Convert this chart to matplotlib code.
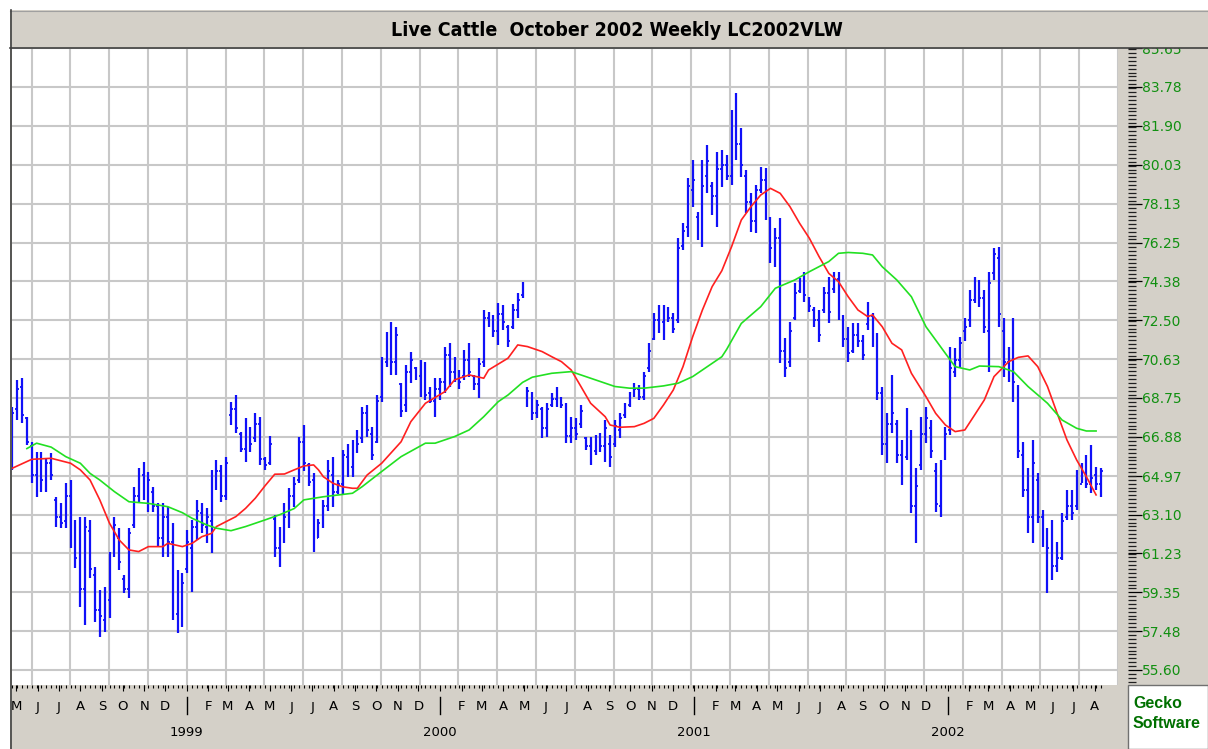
import numpy as np
import pandas as pd
import matplotlib
matplotlib.use('Agg')
import matplotlib.pyplot as plt
import matplotlib.dates as mdates
from matplotlib.patches import Rectangle
from matplotlib.lines import Line2D
from matplotlib.transforms import blended_transform_factory
from matplotlib.ticker import FixedLocator

# ---------------- data ----------------
title = "Live Cattle  October 2002 Weekly LC2002VLW"
start_date = "1998-04-25"

high = [68.33, 69.62, 69.70, 67.84, 66.63, 66.15, 66.15, 65.83, 66.07, 63.97,
        63.65, 64.62, 64.78, 62.85, 63.01, 63.01, 62.85, 60.59, 59.46, 59.62,
        61.32, 63.01, 62.45, 60.19, 62.45, 64.46, 65.35, 65.67, 65.19, 64.46,
        63.65, 63.65, 63.49, 62.69, 60.43, 60.27, 62.36, 62.85, 63.82, 63.65,
        63.41, 65.27, 65.75, 65.51, 65.91, 68.57, 68.89, 67.12, 67.76, 67.36,
        68.00, 67.84, 65.91, 66.90, 63.09, 62.53, 63.65, 64.38, 64.94, 66.88,
        67.44, 65.60, 65.10, 62.90, 63.82, 65.75, 65.91, 64.78, 66.23, 66.50,
        66.72, 67.20, 68.33, 68.41, 67.36, 68.89, 70.74, 71.95, 72.43, 72.19,
        69.46, 70.34, 70.98, 70.26, 70.58, 70.50, 69.30, 69.70, 69.70, 71.23,
        71.39, 70.74, 70.10, 71.07, 71.39, 69.86, 70.66, 73.00, 72.92, 72.76,
        73.32, 73.24, 72.27, 73.30, 73.80, 74.37, 69.30, 69.05, 68.65, 68.33,
        68.49, 68.97, 69.30, 68.81, 68.49, 67.84, 67.76, 68.41, 66.88, 66.88,
        66.96, 67.04, 67.68, 66.96, 67.68, 68.00, 68.49, 69.05, 69.46, 69.38,
        70.02, 71.39, 72.84, 73.24, 73.24, 73.16, 72.84, 76.47, 77.19, 79.37,
        80.25, 77.75, 80.25, 80.98, 79.20, 80.65, 80.73, 80.49, 82.67, 83.47,
        81.78, 79.77, 78.64, 79.04, 79.93, 79.85, 77.51, 76.95, 77.43, 71.63,
        72.43, 74.29, 74.53, 74.85, 73.64, 73.16, 73.00, 74.13, 74.61, 74.85,
        74.85, 72.76, 72.19, 72.35, 72.35, 71.79, 73.40, 72.84, 71.87, 69.30,
        68.00, 69.86, 67.68, 66.72, 68.25, 67.20, 65.35, 67.84, 68.33, 67.68,
        65.59, 65.75, 67.36, 71.23, 71.15, 71.71, 72.60, 73.97, 74.61, 74.45,
        73.97, 74.85, 76.00, 76.06, 72.60, 71.23, 72.60, 69.38, 66.63, 65.35,
        66.72, 65.10, 63.33, 62.45, 62.85, 61.80, 63.17, 64.30, 64.30, 65.27,
        65.59, 65.99, 66.47, 65.43, 65.35]

low = [65.27, 67.68, 67.52, 66.47, 64.62, 63.97, 64.22, 64.22, 64.78, 62.53,
       62.45, 62.45, 61.48, 60.51, 58.66, 57.77, 60.03, 57.93, 57.21, 57.45,
       58.10, 61.07, 60.43, 59.30, 59.06, 62.45, 63.73, 63.82, 63.25, 63.25,
       61.56, 61.07, 61.07, 58.01, 57.37, 57.69, 60.27, 59.38, 61.88, 62.20,
       61.72, 61.24, 64.30, 63.73, 63.82, 67.44, 67.04, 66.15, 65.67, 66.15,
       66.63, 65.51, 65.27, 65.51, 61.07, 60.59, 61.72, 62.45, 63.49, 64.62,
       65.20, 64.50, 61.30, 62.00, 62.45, 63.29, 63.49, 64.10, 64.06, 64.94,
       64.94, 66.07, 66.56, 66.88, 65.75, 66.56, 68.57, 70.26, 69.86, 69.86,
       67.84, 68.08, 69.46, 69.62, 68.81, 68.65, 68.49, 67.84, 68.65, 68.97,
       69.30, 69.54, 69.20, 69.62, 69.78, 69.13, 68.73, 70.26, 72.19, 71.71,
       71.31, 72.03, 71.23, 72.10, 72.60, 73.57, 68.33, 67.68, 67.76, 66.80,
       66.88, 68.33, 68.33, 68.25, 66.56, 66.56, 66.72, 67.28, 66.23, 65.51,
       65.99, 66.15, 65.67, 65.43, 66.39, 66.80, 67.76, 68.33, 68.81, 68.65,
       68.65, 70.02, 71.55, 71.87, 71.55, 72.43, 71.87, 72.35, 75.90, 76.55,
       78.00, 76.38, 76.06, 78.64, 77.59, 77.03, 78.96, 79.28, 79.04, 80.25,
       79.45, 77.67, 76.79, 76.71, 78.64, 77.35, 75.26, 75.09, 70.42, 69.78,
       70.26, 72.52, 73.81, 73.40, 72.92, 72.19, 71.47, 72.84, 72.35, 73.81,
       72.52, 71.23, 70.50, 70.90, 71.23, 70.58, 72.03, 71.23, 68.65, 66.00,
       65.60, 67.04, 65.59, 64.54, 65.75, 63.17, 61.72, 65.27, 66.56, 65.83,
       63.25, 63.01, 65.75, 66.96, 69.78, 70.18, 71.50, 72.19, 73.32, 73.16,
       71.87, 70.02, 74.45, 72.19, 69.78, 69.54, 68.57, 65.83, 63.97, 62.20,
       61.72, 62.69, 61.56, 59.30, 59.95, 60.35, 60.91, 62.85, 62.85, 63.33,
       64.62, 64.38, 64.14, 64.30, 63.97]

open_ = [65.8, 68.2, 69.3, 67.8, 66.4, 65.0, 65.3, 64.8, 65.6, 63.8,
         63.0, 62.8, 64.0, 62.0, 61.2, 59.5, 62.3, 60.2, 58.5, 58.0,
         59.0, 61.3, 62.0, 60.0, 59.5, 62.6, 64.0, 65.0, 64.3, 64.2,
         63.5, 62.0, 63.0, 61.8, 58.3, 58.0, 60.5, 61.5, 62.5, 63.2,
         62.5, 62.8, 64.9, 65.2, 64.0, 67.9, 68.2, 67.0, 66.3, 67.2,
         66.8, 67.5, 65.8, 65.6, 62.9, 61.5, 61.9, 63.0, 64.0, 64.8,
         66.6, 65.5, 64.8, 62.0, 62.7, 63.5, 65.0, 64.2, 64.6, 65.9,
         65.4, 66.5, 66.8, 68.0, 67.0, 66.6, 68.8, 70.5, 71.5, 70.5,
         69.4, 68.4, 70.0, 70.2, 69.8, 69.5, 69.0, 68.6, 69.2, 69.5,
         70.8, 70.0, 70.0, 69.8, 70.6, 69.8, 69.4, 70.5, 72.6, 72.4,
         72.0, 72.8, 72.2, 72.2, 73.0, 73.7, 68.5, 69.0, 68.0, 68.2,
         67.3, 68.4, 68.7, 68.7, 68.4, 66.9, 67.3, 67.5, 66.8, 66.4,
         66.2, 66.6, 66.4, 66.5, 66.5, 67.2, 67.9, 68.4, 68.9, 69.2,
         68.8, 70.2, 71.6, 72.5, 72.4, 72.9, 72.6, 72.5, 76.1, 77.0,
         78.8, 77.5, 76.8, 79.5, 79.0, 78.5, 79.8, 80.0, 79.5, 82.3,
         81.0, 79.5, 78.2, 77.3, 78.8, 79.3, 77.4, 76.0, 76.5, 71.0,
         70.5, 72.6, 73.9, 74.3, 73.6, 73.0, 72.5, 73.0, 73.8, 74.0,
         74.5, 72.5, 71.6, 71.0, 71.8, 71.5, 72.3, 72.7, 71.5, 69.0,
         66.5, 67.5, 67.5, 66.0, 65.9, 67.0, 63.5, 65.5, 67.0, 67.3,
         65.2, 63.5, 65.8, 67.2, 70.0, 70.6, 72.0, 72.5, 73.5, 74.0,
         73.6, 72.0, 74.8, 75.5, 72.0, 70.5, 70.0, 69.0, 66.0, 64.3,
         63.0, 64.8, 63.0, 61.9, 61.3, 60.6, 61.0, 63.0, 63.5, 63.5,
         64.6, 65.0, 64.6, 65.0, 64.6]

close = [68.0, 69.2, 67.9, 66.6, 65.0, 65.5, 64.8, 65.6, 65.0, 63.0,
         62.7, 64.0, 62.0, 61.0, 59.5, 62.5, 60.5, 58.5, 58.2, 59.2,
         61.0, 62.6, 60.8, 59.5, 62.2, 64.0, 65.0, 64.2, 64.8, 63.5,
         62.0, 63.0, 61.8, 58.5, 58.0, 59.8, 61.8, 62.5, 63.3, 62.6,
         63.0, 64.9, 65.2, 64.0, 65.6, 68.2, 67.3, 66.3, 67.4, 66.5,
         67.5, 65.8, 65.5, 66.5, 61.5, 61.0, 63.0, 64.0, 64.6, 66.6,
         65.6, 64.7, 61.8, 62.7, 63.5, 65.2, 64.2, 64.6, 66.0, 65.4,
         66.5, 66.5, 68.0, 67.2, 66.0, 68.6, 70.5, 71.3, 70.5, 71.8,
         68.1, 70.0, 70.6, 69.8, 69.5, 68.9, 68.6, 69.2, 69.5, 70.8,
         70.0, 70.4, 69.5, 70.6, 70.0, 69.4, 70.4, 72.6, 72.4, 72.0,
         72.8, 72.4, 71.5, 73.0, 73.5, 74.1, 69.1, 68.0, 68.4, 67.3,
         68.2, 68.7, 68.9, 68.4, 66.9, 67.3, 67.0, 68.1, 66.4, 66.0,
         66.6, 66.4, 67.3, 65.9, 67.4, 67.8, 68.3, 68.8, 69.2, 68.8,
         69.8, 71.0, 72.5, 72.2, 72.9, 72.6, 72.1, 76.0, 76.8, 79.0,
         79.3, 76.8, 79.0, 80.2, 78.5, 79.8, 80.0, 79.5, 82.3, 81.0,
         80.0, 78.2, 77.3, 78.8, 79.3, 77.8, 76.0, 76.5, 71.0, 70.2,
         72.0, 73.8, 74.3, 73.7, 73.2, 72.5, 71.8, 73.8, 72.9, 74.5,
         72.8, 71.6, 70.9, 71.8, 71.5, 70.8, 72.9, 71.5, 69.0, 66.5,
         67.5, 68.0, 66.0, 65.5, 67.2, 63.5, 64.5, 67.0, 67.8, 66.2,
         63.6, 65.5, 67.0, 70.2, 70.6, 71.4, 72.2, 73.5, 74.0, 73.6,
         72.2, 74.3, 75.7, 72.8, 70.5, 70.0, 69.5, 66.2, 64.3, 63.0,
         65.6, 63.0, 61.9, 61.5, 60.6, 61.0, 62.8, 63.5, 63.2, 64.3,
         65.0, 64.6, 64.9, 64.6, 65.2]

# moving averages (week number from the first bar, value)
red_week = [0, 4, 8, 12, 14, 16, 18, 20, 22, 24, 26, 28, 31, 32, 35, 37, 39, 41,
            42, 44, 46, 48, 50, 52, 54, 56, 58, 60, 62, 63, 64, 66, 68, 70, 71,
            73, 76, 80, 82, 85, 89, 91, 94, 97, 98, 102, 104, 106, 109, 111, 113,
            115, 117, 119, 122, 123, 125, 128, 130, 132, 134, 136, 138, 140, 142,
            144, 146, 148, 150, 152, 154, 156, 158, 160, 162, 164, 166, 168, 170,
            172, 174, 176, 177, 179, 181, 183, 185, 188, 190, 192, 194, 196, 198,
            200, 202, 205, 207, 209, 211, 213, 215, 217, 219, 221, 223]
red_ma = [65.35, 65.78, 65.83, 65.59, 65.27, 64.78, 63.82, 62.69, 61.88, 61.40,
          61.32, 61.56, 61.56, 61.72, 61.56, 61.72, 62.04, 62.20, 62.53, 62.77,
          63.01, 63.41, 63.90, 64.50, 65.06, 65.07, 65.27, 65.46, 65.51, 65.27,
          64.94, 64.62, 64.45, 64.38, 64.38, 65.02, 65.59, 66.63, 67.60, 68.49,
          69.05, 69.62, 69.86, 69.70, 70.10, 70.67, 71.31, 71.23, 70.99, 70.74,
          70.50, 70.10, 69.30, 68.49, 67.84, 67.44, 67.33, 67.36, 67.52, 67.76,
          68.41, 69.13, 70.26, 71.71, 73.00, 74.13, 74.90, 76.06, 77.35, 78.00,
          78.56, 78.88, 78.64, 78.00, 77.19, 76.47, 75.58, 74.77, 74.37, 73.64,
          73.00, 72.68, 72.76, 72.19, 71.39, 71.07, 69.94, 68.81, 68.00, 67.44,
          67.12, 67.20, 67.92, 68.65, 69.78, 70.50, 70.71, 70.78, 70.26, 69.30,
          68.00, 66.72, 65.75, 64.94, 64.06]

green_week = [3, 5, 8, 11, 14, 16, 18, 21, 24, 28, 32, 35, 37, 40, 42, 45, 48, 52,
              55, 58, 60, 64, 70, 72, 76, 80, 85, 87, 91, 94, 97, 100, 102, 105,
              107, 111, 115, 118, 121, 124, 127, 130, 134, 137, 140, 142, 146, 147,
              150, 154, 157, 161, 164, 168, 170, 172, 175, 177, 179, 182, 185, 188,
              192, 194, 197, 199, 203, 206, 209, 213, 216, 219, 221, 223]
green_ma = [66.30, 66.56, 66.37, 65.91, 65.59, 65.10, 64.78, 64.22, 63.73, 63.65,
            63.49, 63.20, 62.93, 62.61, 62.45, 62.33, 62.53, 62.85, 63.10, 63.40,
            63.82, 63.97, 64.14, 64.46, 65.19, 65.91, 66.56, 66.56, 66.88, 67.20,
            67.84, 68.57, 68.89, 69.50, 69.75, 69.94, 70.02, 69.78, 69.54, 69.30,
            69.22, 69.22, 69.33, 69.46, 69.78, 70.10, 70.74, 71.10, 72.35, 73.16,
            74.05, 74.45, 74.85, 75.34, 75.74, 75.78, 75.74, 75.66, 75.09, 74.45,
            73.64, 72.19, 70.90, 70.26, 70.10, 70.29, 70.26, 70.02, 69.30, 68.49,
            67.68, 67.28, 67.15, 67.15]

price_ticks = [55.60, 57.48, 59.35, 61.23, 63.10, 64.97, 66.88, 68.75, 70.63,
               72.50, 74.38, 76.25, 78.13, 80.03, 81.90, 83.78, 85.65]
month_letters = "JFMAMJJASOND"
year_labels = [1999, 2000, 2001, 2002]

# ---------------- layout ----------------
W, H = 1208, 749
fig = plt.figure(figsize=(W / 100, H / 100), dpi=100)
fig.patch.set_facecolor('white')

def fx(px):
    return px / W

def fy(py):
    return 1 - py / H

GRAY = '#D4D0C8'
DARK = '#404040'

bg = Rectangle((fx(10), 0), 1 - fx(10), fy(10), transform=fig.transFigure,
               facecolor=GRAY, edgecolor='none', zorder=-10)
fig.add_artist(bg)

L, R, T, B = 12, 1118, 48, 685
ax = fig.add_axes([fx(L), fy(B), (R - L) / W, (B - T) / H])
ax.set_facecolor('white')
for s in ax.spines.values():
    s.set_visible(False)

dates = pd.date_range(start_date, periods=len(high), freq='7D')
xd = mdates.date2num(dates)
d0 = mdates.date2num(pd.Timestamp(start_date))
px_per_day = 4.86 / 7.0
ax.set_xlim(d0 - 0.3 / px_per_day, d0 + (R - L - 0.3) / px_per_day)
ax.set_ylim(54.87, 85.665)

# grid
grid_c = '#C8C8C8'
ax.set_yticks(price_ticks)
ax.yaxis.grid(True, color=grid_c, lw=1.5, zorder=0)
ax.tick_params(axis='y', length=0, labelleft=False, labelright=False)
step = 38.8 / (R - L)
for k in range(0, 29):
    ax.add_line(Line2D([1 - k * step, 1 - k * step], [0, 1], transform=ax.transAxes,
                       color=grid_c, lw=1.5, zorder=0.5))
ax.set_axisbelow(True)

# OHLC bars
bar_c = '#1010F8'
tk = 2.6  # days
ax.vlines(xd, low, high, color=bar_c, lw=1.6, zorder=3)
ax.hlines(open_, xd - tk, xd, color=bar_c, lw=1.3, zorder=3)
ax.hlines(close, xd, xd + tk, color=bar_c, lw=1.3, zorder=3)

# moving averages
red_x = d0 + np.array(red_week) * 7.0
green_x = d0 + np.array(green_week) * 7.0
ax.plot(red_x, red_ma, color='#FF2020', lw=1.2, zorder=4)
ax.plot(green_x, green_ma, color='#22E022', lw=1.2, zorder=4)

# x axis ticks: months major, weeks minor
month_starts = pd.date_range('1998-05-01', '2002-08-01', freq='MS')
ax.xaxis.set_major_locator(FixedLocator(mdates.date2num(month_starts)))
ax.xaxis.set_minor_locator(FixedLocator(xd))
ax.tick_params(axis='x', which='major', length=4.5, width=0.8, color='black',
               direction='out', labelbottom=False)
ax.tick_params(axis='x', which='minor', length=2.2, width=0.8, color='black',
               direction='out')

tr = blended_transform_factory(ax.transData, fig.transFigure)
for d in month_starts:
    xm = mdates.date2num(d)
    if d.month == 1:
        ax.add_line(Line2D([xm, xm], [fy(697), fy(714)], transform=tr, color='black',
                           lw=1.0, clip_on=False))
    else:
        ax.text(xm, fy(707), month_letters[d.month - 1], transform=tr, ha='center',
                va='center', fontsize=9.5, family='DejaVu Sans', color='black',
                clip_on=False)
for yv in year_labels:
    xm = mdates.date2num(pd.Timestamp(f'{yv}-01-01'))
    ax.text(xm, fy(733), str(yv), transform=tr, ha='center', va='center',
            fontsize=9.5, family='DejaVu Sans', color='black', clip_on=False)

# right price axis
rax = fig.add_axes([fx(1127), fy(B), 0.5 / W, (B - T) / H])
rax.set_ylim(ax.get_ylim())
rax.patch.set_visible(False)
for s in rax.spines.values():
    s.set_visible(False)
rax.set_xticks([])
rax.yaxis.set_ticks_position('right')
rax.set_yticks(price_ticks)
rax.set_yticklabels([f'{v:.2f}' for v in price_ticks])
minor = [55.60 + 0.1875 * k for k in range(-5, 165)]
rax.yaxis.set_minor_locator(FixedLocator(minor))
rax.tick_params(axis='y', which='major', length=10, width=0.9, color='black',
                direction='out', pad=0.5, labelsize=10, labelcolor='#119011')
rax.tick_params(axis='y', which='minor', length=5.8, width=0.9, color='#202020',
                direction='out')

# title bar
tb = Rectangle((fx(10), fy(48)), 1 - fx(10), (48 - 10) / H, transform=fig.transFigure,
               facecolor=GRAY, edgecolor='none', zorder=10)
fig.add_artist(tb)
fig.add_artist(Line2D([fx(10), 1], [fy(47.5), fy(47.5)], transform=fig.transFigure,
                      color=DARK, lw=1.2, zorder=11))
fig.add_artist(Line2D([fx(10), 1], [fy(10.5), fy(10.5)], transform=fig.transFigure,
                      color='#A0A0A0', lw=0.8, zorder=11))
fig.add_artist(Line2D([fx(10.5), fx(10.5)], [fy(10), 0], transform=fig.transFigure,
                      color=DARK, lw=1.2, zorder=11))
fig.text(fx(617), fy(30), title, ha='center', va='center', fontsize=14,
         fontweight='bold', fontstretch='condensed',
         family=['Liberation Sans Narrow', 'DejaVu Sans'], zorder=12)

# logo box
lb = Rectangle((fx(1128), 0), 1 - fx(1128), fy(685), transform=fig.transFigure,
               facecolor='white', edgecolor='#707070', lw=1.0, zorder=10)
fig.add_artist(lb)
fig.text(fx(1133), fy(704), 'Gecko', ha='left', va='center', fontsize=11.5,
         fontweight='bold', color='#007000', family='Liberation Sans', zorder=12)
fig.text(fx(1133), fy(723), 'Software', ha='left', va='center', fontsize=11.5,
         fontweight='bold', color='#007000', family='Liberation Sans', zorder=12)

fig.savefig('out.png', dpi=100)
